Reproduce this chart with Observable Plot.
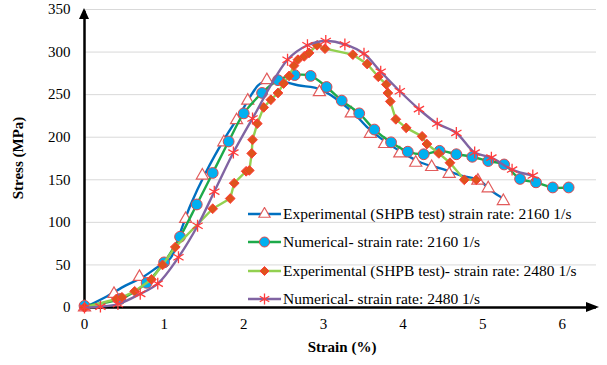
<!DOCTYPE html>
<html>
<head>
<meta charset="utf-8">
<script src="https://cdn.jsdelivr.net/npm/d3@7"></script>
<script src="https://cdn.jsdelivr.net/npm/@observablehq/plot@0.6"></script>
<style>
  html, body { margin: 0; padding: 0; background: #fff; }
  #wrap { position: relative; width: 607px; height: 365px; font-family: "Liberation Serif", "Times New Roman", serif; }
  #wrap svg text { font-family: "Liberation Serif", "Times New Roman", serif; }
  #legend { position: absolute; left: 247px; top: 200px; font-size: 15.5px; color: #000; }
  .row { display: flex; align-items: center; height: 28.3px; white-space: nowrap; }
  .row svg { margin-right: 1px; }
</style>
</head>
<body>
<div id="wrap"><div id="legend"></div></div>
<script>
// ---- data (strain in %, stress in MPa) ----
const xTicks = [0, 1, 2, 3, 4, 5, 6];
const yTicks = [0, 50, 100, 150, 200, 250, 300, 350];

const seriesNames = [
  "Experimental (SHPB test) strain rate: 2160 1/s",
  "Numerical- strain rate: 2160 1/s",
  "Experimental (SHPB test)- strain rate: 2480 1/s",
  "Numerical- strain rate: 2480 1/s"
];

// Experimental 2160 1/s : smoothed line and triangle markers
const exp2160LineStrain = [0, 0.26, 0.52, 0.72, 0.91, 1.08, 1.21, 1.33, 1.52, 1.77, 1.94, 2.11, 2.21, 2.43, 2.68, 2.97, 3.35, 3.56, 3.76, 4.01, 4.23, 4.48, 4.73, 4.96, 5.11, 5.26];
const exp2160LineStress = [0, 12, 26, 35, 47, 58, 90, 120, 158, 200, 225, 252, 263, 266, 261, 256, 231, 211, 196, 181, 170, 163, 155, 149, 137, 128];
const exp2160Strain = [0, 0.37, 0.69, 1.27, 1.48, 1.75, 1.91, 2.05, 2.29, 2.95, 3.35, 3.59, 3.77, 3.96, 4.16, 4.36, 4.58, 4.94, 5.07, 5.26];
const exp2160Stress = [0, 16, 36, 104, 155, 194, 220, 243, 267, 253, 228, 204, 192, 181, 170, 165, 157, 149, 140, 125];

// Numerical 2160 1/s : circles
const num2160Strain = [0, 0.45, 0.78, 1.0, 1.2, 1.41, 1.61, 1.81, 2.0, 2.23, 2.43, 2.64, 2.84, 3.04, 3.23, 3.45, 3.64, 3.85, 4.06, 4.26, 4.46, 4.67, 4.87, 5.07, 5.27, 5.47, 5.67, 5.88, 6.08];
const num2160Stress = [2, 10, 29, 53, 83, 121, 158, 195, 228, 252, 267, 273, 272, 259, 243, 228, 209, 194, 183, 180, 184, 180, 177, 172, 168, 151, 147, 141, 141];

// Experimental 2480 1/s : diamonds
const exp2480Strain = [0, 0.4, 0.47, 0.63, 0.84, 0.98, 1.14, 1.61, 1.83, 1.88, 2.03, 2.07, 2.1, 2.11, 2.17, 2.25, 2.34, 2.43, 2.5, 2.57, 2.63, 2.68, 2.76, 2.82, 2.92, 3.02, 3.37, 3.55, 3.69, 3.79, 3.81, 3.84, 3.91, 4.04, 4.24, 4.3, 4.45, 4.59, 4.77, 4.92];
const exp2480Stress = [0, 10, 12, 19, 33, 50, 71, 116, 128, 146, 160, 161, 181, 197, 216, 235, 244, 252, 263, 272, 284, 291, 295, 299, 308, 304, 297, 286, 271, 262, 252, 242, 221, 211, 201, 192, 181, 170, 150, 150];

// Numerical 2480 1/s : stars
const num2480Strain = [0, 0.2, 0.42, 0.7, 0.92, 1.18, 1.42, 1.63, 1.87, 2.11, 2.55, 2.8, 3.03, 3.27, 3.51, 3.72, 3.96, 4.2, 4.43, 4.67, 4.9, 5.11, 5.37, 5.63];
const num2480Stress = [0, 1, 4, 16, 28, 59, 96, 136, 182, 222, 291, 308, 313, 309, 298, 277, 254, 233, 216, 205, 182, 176, 162, 155];

// ---- styles ----
const styles = [
  {line: "#0070C0", symbol: "triangle", r: 4.5, fill: "white", stroke: "#E25B5B", sw: 1.2},
  {line: "#1DAA4A", symbol: "circle", r: 5.4, fill: "#00B0F0", stroke: "#E0474C", sw: 1},
  {line: "#92D050", symbol: "diamond2", r: 4.4, fill: "#DF531C", stroke: "#FF3A3A", sw: 1},
  {line: "#8064A2", symbol: "asterisk", r: 5.6, fill: "none", stroke: "#FF3B3B", sw: 1.3}
];

const serif = "'Liberation Serif', 'Times New Roman', serif";
const pts = (xs, ys) => xs.map((x, i) => ({x, y: ys[i]}));
const lineData = [
  pts(exp2160LineStrain, exp2160LineStress),
  pts(num2160Strain, num2160Stress),
  pts(exp2480Strain, exp2480Stress),
  pts(num2480Strain, num2480Stress)
];
const markData = [
  pts(exp2160Strain, exp2160Stress),
  pts(num2160Strain, num2160Stress),
  pts(exp2480Strain, exp2480Stress),
  pts(num2480Strain, num2480Stress)
];

const seriesMarks = [];
for (let i = 0; i < 4; i++) {
  const s = styles[i];
  seriesMarks.push(Plot.line(lineData[i], {x: "x", y: "y", stroke: s.line, strokeWidth: 2.4, curve: i === 2 ? "linear" : "catmull-rom"}));
  seriesMarks.push(Plot.dot(markData[i], {x: "x", y: "y", symbol: () => s.symbol, r: s.r, fill: s.fill, stroke: s.stroke, strokeWidth: s.sw}));
}

const chart = Plot.plot({
  width: 607,
  height: 365,
  marginLeft: 84,
  marginRight: 11,
  marginTop: 9,
  marginBottom: 58,
  x: {domain: [0, 6.43]},
  y: {domain: [0, 350]},
  symbol: {type: "identity"},
  style: {fontFamily: serif, fontSize: "15px", color: "#000", background: "white", overflow: "visible"},
  marks: [
    Plot.gridY(yTicks.filter(d => d > 0), {stroke: "#D9D9D9", strokeOpacity: 1, strokeWidth: 1}),
    Plot.axisY(yTicks, {tickSize: 0, tickPadding: 14, fontSize: 15, label: null}),
    Plot.axisX(xTicks, {tickSize: 0, tickPadding: 11, fontSize: 15, label: null}),
    Plot.ruleY([0], {stroke: "black", strokeWidth: 2.5}),
    Plot.ruleX([0], {stroke: "black", strokeWidth: 2.5, y1: 0, y2: 348}),
    ...seriesMarks
  ]
});

const svg = d3.select(chart);
svg.style("font-family", serif);
const xs = chart.scale("x"), ys = chart.scale("y");
const x0 = xs.apply(0), y0 = ys.apply(0);
const xEnd = xs.apply(6.43), yEnd = ys.apply(350);
// arrowheads
svg.append("path").attr("d", `M${x0 - 5},${yEnd + 10}L${x0},${yEnd - 1}L${x0 + 5},${yEnd + 10}Z`).attr("fill", "black");
svg.append("path").attr("d", `M${xEnd - 10},${y0 - 5}L${xEnd + 3},${y0}L${xEnd - 10},${y0 + 5}Z`).attr("fill", "black");
// axis titles
svg.append("text").attr("x", 342).attr("y", 352).attr("text-anchor", "middle")
  .attr("font-family", serif).attr("font-weight", "bold").attr("font-size", 15).text("Strain (%)");
svg.append("text").attr("transform", `translate(23,${(y0 + yEnd) / 2}) rotate(-90)`).attr("text-anchor", "middle")
  .attr("font-family", serif).attr("font-weight", "bold").attr("font-size", 15).text("Stress (MPa)");

document.getElementById("wrap").prepend(chart);
chart.style.position = "absolute";
chart.style.left = "0";
chart.style.top = "0";

// legend (HTML overlay)
const legend = d3.select("#legend");
const symMap = {triangle: d3.symbolTriangle, circle: d3.symbolCircle, diamond2: d3.symbolDiamond2, asterisk: d3.symbolAsterisk};
seriesNames.forEach((name, i) => {
  const s = styles[i];
  const row = legend.append("div").attr("class", "row");
  const sw = row.append("svg").attr("width", 35).attr("height", 14);
  sw.append("line").attr("x1", 1).attr("x2", 34).attr("y1", 7).attr("y2", 7).attr("stroke", s.line).attr("stroke-width", 2.4);
  sw.append("path").attr("transform", "translate(17.5,7)")
    .attr("d", d3.symbol(symMap[s.symbol], Math.PI * s.r * s.r * 0.85)())
    .attr("fill", s.fill).attr("stroke", s.stroke).attr("stroke-width", s.sw);
  row.append("span").text(name);
});
</script>
</body>
</html>
